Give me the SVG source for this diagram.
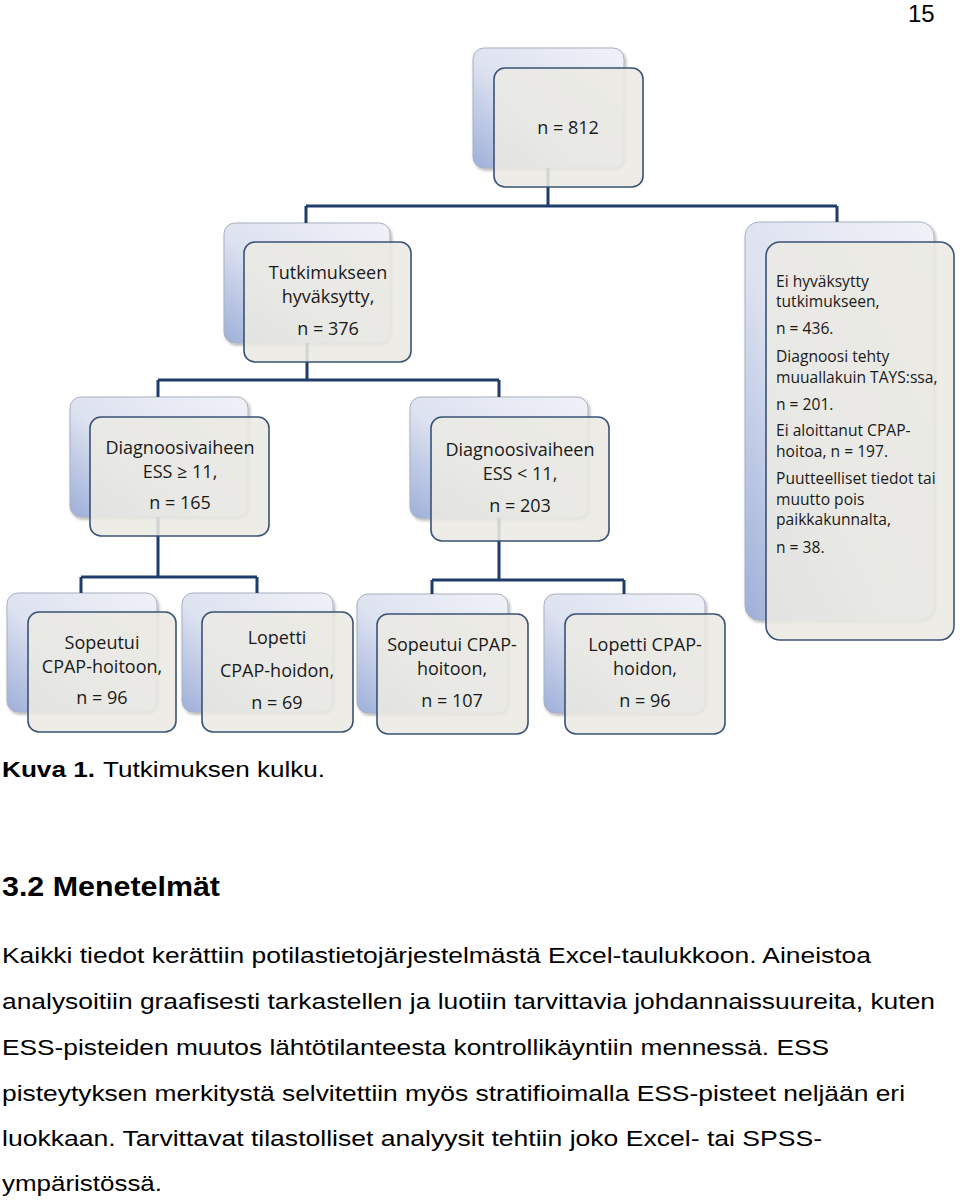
<svg xmlns="http://www.w3.org/2000/svg" width="960" height="1200" viewBox="0 0 960 1200">
<style>
.bk{fill:url(#gb);stroke:#a9b0c0;stroke-width:1;filter:url(#sh)}
.fr{fill:#ebe9e2;fill-opacity:0.88;stroke:#3a5376;stroke-width:1.6}
.t{font-family:"Open Sans","Noto Sans",sans-serif;font-size:18px;fill:#1a1a1a;text-anchor:middle}
.tl{font-family:"Open Sans","Noto Sans",sans-serif;font-size:15.6px;fill:#1a1a1a}
.c{stroke:#1f3d6b;stroke-width:3;fill:none}
.p{font-family:"Liberation Sans",Arial,sans-serif;font-size:22px;fill:#000}
.h{font-family:"Liberation Sans",Arial,sans-serif;font-size:27px;font-weight:bold;fill:#000}
.pg{font-family:"Liberation Sans",Arial,sans-serif;font-size:24px;fill:#000}
</style>
<defs>
<linearGradient id="gb" x1="1" y1="0" x2="0" y2="1">
<stop offset="0" stop-color="#f1f2f8"/>
<stop offset="0.55" stop-color="#dde2f0"/>
<stop offset="1" stop-color="#9eafd9"/>
</linearGradient>
<filter id="sh" x="-10%" y="-10%" width="130%" height="130%">
<feDropShadow dx="1.5" dy="2" stdDeviation="1.5" flood-color="#000" flood-opacity="0.3"/>
</filter>
</defs>
<rect width="960" height="1200" fill="#fff"/>
<text class="pg" x="908" y="22">15</text>

<g id="backs">
<rect class="bk" x="473" y="48" width="151" height="120" rx="11"/>
<rect class="bk" x="224" y="223" width="166" height="120" rx="11"/>
<rect class="bk" x="745" y="222" width="189" height="398" rx="14"/>
<rect class="bk" x="70" y="397" width="178" height="120" rx="11"/>
<rect class="bk" x="410" y="397" width="178" height="121" rx="11"/>
<rect class="bk" x="7" y="593" width="150" height="119" rx="11"/>
<rect class="bk" x="182" y="593" width="151" height="119" rx="11"/>
<rect class="bk" x="357" y="594" width="151" height="119" rx="11"/>
<rect class="bk" x="544" y="594" width="161" height="119" rx="11"/>
</g>

<g id="connectors">
<path class="c" d="M548,168V206M306,206H837M306,206V223M837,206V222"/>
<path class="c" d="M307,343V380M158,380H499M158,380V397M499,380V397"/>
<path class="c" d="M158,517V577M81,577H257M81,577V593M257,577V593"/>
<path class="c" d="M499,518V580M432,580H624M432,580V594M624,580V594"/>
</g>

<g id="n812">
<rect class="fr" x="494" y="68" width="149" height="119" rx="11"/>
<text class="t" x="568" y="134">n = 812</text>
</g>
<g id="n376">
<rect class="fr" x="244" y="242" width="167" height="120" rx="11"/>
<text class="t" x="328" y="279">Tutkimukseen</text>
<text class="t" x="328" y="303">hyväksytty,</text>
<text class="t" x="328" y="335">n = 376</text>
</g>
<g id="n436">
<rect class="fr" x="766" y="242" width="188" height="398" rx="14"/>
<text class="tl" x="776" y="287">Ei hyväksytty</text>
<text class="tl" x="776" y="307">tutkimukseen,</text>
<text class="tl" x="776" y="334">n = 436.</text>
<text class="tl" x="776" y="362">Diagnoosi tehty</text>
<text class="tl" x="776" y="383">muuallakuin TAYS:ssa,</text>
<text class="tl" x="776" y="410">n = 201.</text>
<text class="tl" x="776" y="436">Ei aloittanut CPAP-</text>
<text class="tl" x="776" y="457">hoitoa, n = 197.</text>
<text class="tl" x="776" y="484">Puutteelliset tiedot tai</text>
<text class="tl" x="776" y="505">muutto pois</text>
<text class="tl" x="776" y="525">paikkakunnalta,</text>
<text class="tl" x="776" y="553">n = 38.</text>
</g>
<g id="n165">
<rect class="fr" x="90" y="417" width="179" height="119" rx="11"/>
<text class="t" x="180" y="454">Diagnoosivaiheen</text>
<text class="t" x="180" y="478">ESS ≥ 11,</text>
<text class="t" x="180" y="509">n = 165</text>
</g>
<g id="n203">
<rect class="fr" x="431" y="417" width="178" height="124" rx="11"/>
<text class="t" x="520" y="456">Diagnoosivaiheen</text>
<text class="t" x="520" y="480">ESS &lt; 11,</text>
<text class="t" x="520" y="512">n = 203</text>
</g>
<g id="n96a">
<rect class="fr" x="28" y="612" width="148" height="120" rx="11"/>
<text class="t" x="102" y="649">Sopeutui</text>
<text class="t" x="102" y="673">CPAP-hoitoon,</text>
<text class="t" x="102" y="704">n = 96</text>
</g>
<g id="n69">
<rect class="fr" x="202" y="612" width="151" height="120" rx="11"/>
<text class="t" x="277" y="644">Lopetti</text>
<text class="t" x="277" y="677">CPAP-hoidon,</text>
<text class="t" x="277" y="709">n = 69</text>
</g>
<g id="n107">
<rect class="fr" x="377" y="614" width="151" height="120" rx="11"/>
<text class="t" x="452" y="651">Sopeutui CPAP-</text>
<text class="t" x="452" y="675">hoitoon,</text>
<text class="t" x="452" y="707">n = 107</text>
</g>
<g id="n96b">
<rect class="fr" x="565" y="614" width="160" height="120" rx="11"/>
<text class="t" x="645" y="651">Lopetti CPAP-</text>
<text class="t" x="645" y="675">hoidon,</text>
<text class="t" x="645" y="707">n = 96</text>
</g>

<text class="p" x="2" y="777" font-weight="bold" textLength="93" lengthAdjust="spacingAndGlyphs">Kuva 1.</text>
<text class="p" x="103" y="777" textLength="222" lengthAdjust="spacingAndGlyphs">Tutkimuksen kulku.</text>
<text class="h" x="2" y="896" textLength="218" lengthAdjust="spacingAndGlyphs">3.2 Menetelmät</text>
<text class="p" x="2" y="963" textLength="869" lengthAdjust="spacingAndGlyphs">Kaikki tiedot kerättiin potilastietojärjestelmästä Excel-taulukkoon. Aineistoa</text>
<text class="p" x="2" y="1009" textLength="933" lengthAdjust="spacingAndGlyphs">analysoitiin graafisesti tarkastellen ja luotiin tarvittavia johdannaissuureita, kuten</text>
<text class="p" x="2" y="1055" textLength="827" lengthAdjust="spacingAndGlyphs">ESS-pisteiden muutos lähtötilanteesta kontrollikäyntiin mennessä. ESS</text>
<text class="p" x="2" y="1101" textLength="903" lengthAdjust="spacingAndGlyphs">pisteytyksen merkitystä selvitettiin myös stratifioimalla ESS-pisteet neljään eri</text>
<text class="p" x="2" y="1146" textLength="820" lengthAdjust="spacingAndGlyphs">luokkaan. Tarvittavat tilastolliset analyysit tehtiin joko Excel- tai SPSS-</text>
<text class="p" x="2" y="1191" textLength="160" lengthAdjust="spacingAndGlyphs">ympäristössä.</text>
</svg>
